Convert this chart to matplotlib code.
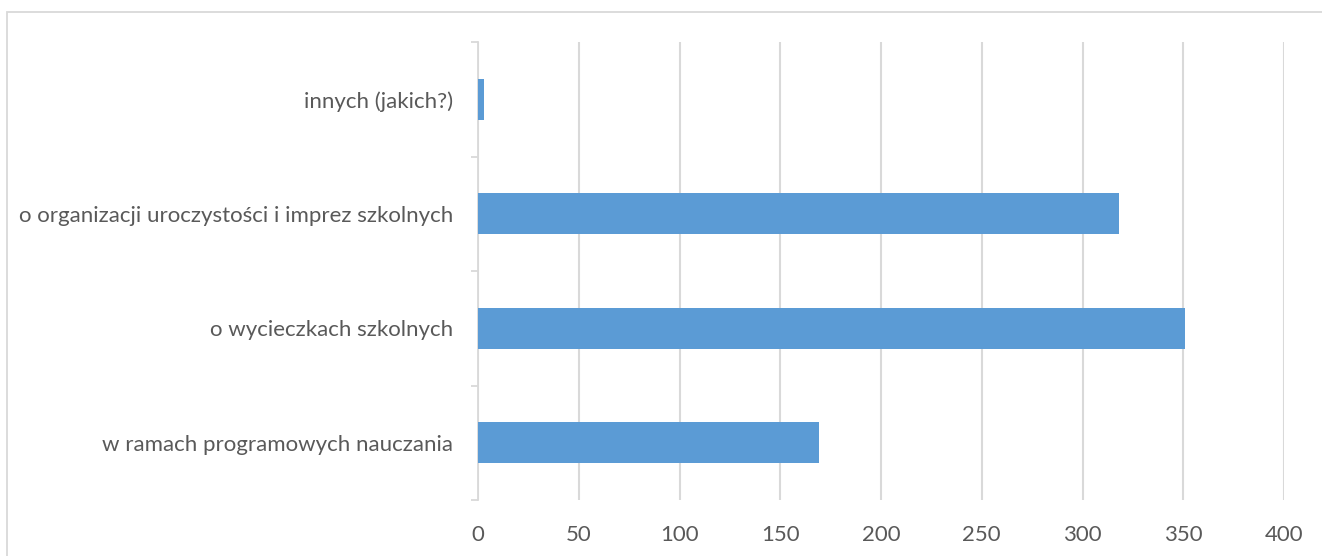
import numpy as np
import matplotlib.pyplot as plt
from matplotlib.patches import Rectangle

categories = ['w ramach programowych nauczania',
              'o wycieczkach szkolnych',
              'o organizacji uroczystości i imprez szkolnych',
              'innych (jakich?)']
values = [169, 351, 318, 3]
xticks = [0, 50, 100, 150, 200, 250, 300, 350, 400]

plt.rcParams['font.family'] = ['Lato', 'DejaVu Sans']
W, H = 1322, 556
fig = plt.figure(figsize=(W / 100, H / 100), dpi=100)

# outer chart border (runs off the right and bottom edges)
fig.patches.append(Rectangle((7 / W, -0.1), 1.2, (H - 12) / H + 0.1,
                             transform=fig.transFigure, fill=False,
                             edgecolor='#d9d9d9', linewidth=1.3))

ax = fig.add_axes([478 / W, 56 / H, 806 / W, 458 / H])
y = np.arange(len(categories))
ax.barh(y, values, height=0.36, color='#5b9bd5', zorder=3)

ax.set_xlim(0, 400)
ax.set_ylim(-0.5, len(categories) - 0.5)
ax.set_xticks(xticks)
ax.set_yticks(y)
ax.set_yticklabels(categories)
ax.set_yticks(np.arange(-0.5, len(categories)), minor=True)

ax.grid(axis='x', color='#d9d9d9', linewidth=1.5, zorder=0)
for s in ['top', 'right', 'bottom']:
    ax.spines[s].set_visible(False)
ax.spines['left'].set_color('#d9d9d9')
ax.spines['left'].set_linewidth(1.3)

ax.tick_params(axis='x', length=0, pad=18, labelsize=16, labelcolor='#595959')
ax.tick_params(axis='y', which='major', length=0, pad=18, labelsize=16, labelcolor='#595959')
ax.tick_params(axis='y', which='minor', length=5, width=1.3, color='#d9d9d9')

fig.savefig('out.png', dpi=100)
